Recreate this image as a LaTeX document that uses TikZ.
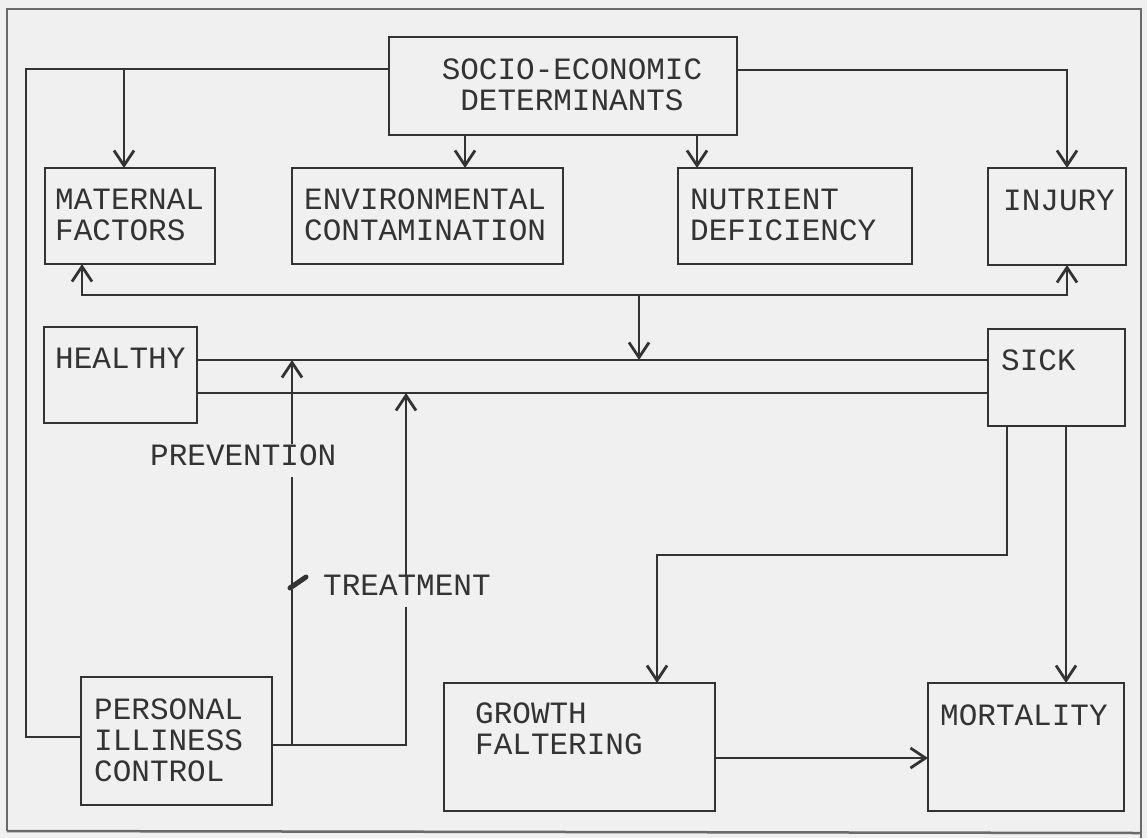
\documentclass[tikz,border=0pt]{standalone}
\usepackage{fontspec}
\setmonofont{Liberation Mono}
\usetikzlibrary{arrows.meta,fit}
\definecolor{ink}{HTML}{333333}
\definecolor{paper}{HTML}{F0F0F0}
\definecolor{framec}{HTML}{6A6A6A}
\tikzset{
  box/.style={draw=ink, line width=1.6pt, inner sep=0pt, outer sep=0pt},
  lbl/.style={font=\fontsize{31}{31}\selectfont\ttfamily, text=ink, align=left, inner sep=0pt, anchor=west},
  freelbl/.style={font=\fontsize{31}{31}\selectfont\ttfamily, text=ink, inner sep=0pt, anchor=base west, text depth=12pt, fill=paper},
  conn/.style={draw=ink, line width=1.6pt},
  tip/.tip={Straight Barb[length=15pt,width=20pt,line width=2.8pt]},
  arr/.style={conn, -tip},
  arrboth/.style={conn, tip-tip}
}
\begin{document}
\begin{tikzpicture}[x=1pt,y=-1pt]
\useasboundingbox (0,0) rectangle (1147,838);
\fill[paper] (0,0) rectangle (1147,838);
\draw[framec, line width=2.5pt] (7,831) -- (7,9) -- (1141,9) -- (1141,838);
\draw[framec, line width=2.5pt] (7,831) -- (1141,833);

% boxes
\node[box, fit={(389,37) (737,135)}] (socio) {};
\node[box, fit={(45,168) (215,264)}] (maternal) {};
\node[box, fit={(292,168) (563,264)}] (env) {};
\node[box, fit={(678,168) (912,264)}] (nutrient) {};
\node[box, fit={(988,168) (1126,265)}] (injury) {};
\node[box, fit={(44,327) (197,423)}] (healthy) {};
\node[box, fit={(988,329) (1125,426)}] (sick) {};
\node[box, fit={(81,677) (272,805)}] (personal) {};
\node[box, fit={(444,683) (715,811)}] (growth) {};
\node[box, fit={(928,683) (1124,811)}] (mortality) {};

% box texts
\node[lbl, anchor=center, align=center] (tsocio) at (572,85) {SOCIO-ECONOMIC\\DETERMINANTS};
\node[lbl] (tmat) at (55,215) {MATERNAL\\FACTORS};
\node[lbl] (tenv) at (304,215) {ENVIRONMENTAL\\CONTAMINATION};
\node[lbl] (tnut) at (690,215) {NUTRIENT\\DEFICIENCY};
\node[lbl] (tinj) at (1003,200) {INJURY};
\node[lbl] (theal) at (55,358) {HEALTHY};
\node[lbl] (tsick) at (1001,360) {SICK};
\node[lbl] (tpers) at (94,740) {PERSONAL\\ILLINESS\\CONTROL};
\node[lbl] (tgrow) at (475,729) {GROWTH\\FALTERING};
\node[lbl] (tmort) at (940,715) {MORTALITY};

% connectors
\draw[conn] (socio.west |- 0,69) -- (26,69) -- (26,737) -- (personal.west |- 0,737);
\draw[arr] (124,69) -- (maternal.north -| 124,0);
\draw[arr] (socio.south -| 465,0) -- (env.north -| 465,0);
\draw[arr] (socio.south -| 697,0) -- (nutrient.north -| 697,0);
\draw[arr] (socio.east |- 0,70) -- (1067,70) -- (injury.north -| 1067,0);
\draw[arrboth] (maternal.south -| 82,0) -- (82,295) -- (1067,295) -- (injury.south -| 1067,0);
\coordinate (upper) at (639,360);
\draw[arr] (639,295) -- (upper);
\draw[conn] (healthy.east |- 0,360) -- (sick.west |- 0,360);
\draw[conn] (healthy.east |- 0,393) -- (sick.west |- 0,393);
\draw[arr] (personal.east |- 0,745) -- (406,745) -- (406,393);
\draw[arr] (292,745) -- (292,360);
\draw[arr] (sick.south -| 1007,0) -- (1007,555) -- (657,555) -- (growth.north -| 657,0);
\draw[arr] (sick.south -| 1066,0) -- (mortality.north -| 1066,0);
\draw[arr, line width=2.6pt] (growth.east |- 0,758) -- (mortality.west |- 0,758);
\draw[ink, line width=5pt, line cap=round] (290,588) -- (306,577);

% free labels
\node[freelbl] (tprev) at (150,465) {PREVENTION};
\node[freelbl] (ttreat) at (323,595) {TREATMENT};
\end{tikzpicture}
\end{document}
